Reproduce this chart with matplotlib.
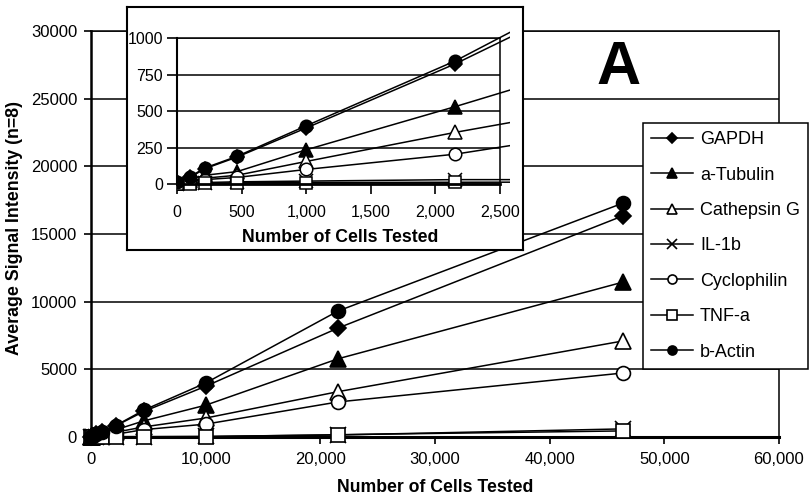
import matplotlib
matplotlib.use("Agg")
import matplotlib.pyplot as plt
from matplotlib.ticker import FuncFormatter, MultipleLocator
from matplotlib.patches import Rectangle

plt.rcParams['font.family'] = ['Liberation Sans', 'DejaVu Sans']

# number of cells and average signal (n=8)
cells = [0, 100, 215, 464, 1000, 2154, 4642, 10000, 21544, 46416]
gapdh = [12, 45, 105, 185, 385, 826, 1900, 3750, 8050, 16350]
tubulin = [8, 30, 60, 85, 235, 532, 1200, 2350, 5780, 11450]
cathepsin = [5, 20, 40, 60, 155, 355, 750, 1400, 3350, 7100]
il1b = [2, 5, 10, 15, 20, 30, 30, 40, 150, 600]
cyclophilin = [5, 15, 30, 45, 100, 205, 550, 950, 2590, 4730]
tnfa = [1, 3, 5, 8, 10, 12, 15, 30, 170, 450]
actin = [15, 50, 110, 190, 400, 846, 2000, 3990, 9310, 17290]

series = [
    ("GAPDH", gapdh, dict(marker="D", ms=8, mfc="black")),
    ("a-Tubulin", tubulin, dict(marker="^", ms=11, mfc="black")),
    ("Cathepsin G", cathepsin, dict(marker="^", ms=11, mfc="white")),
    ("IL-1b", il1b, dict(marker="x", ms=11, mfc="black")),
    ("Cyclophilin", cyclophilin, dict(marker="o", ms=10, mfc="white")),
    ("TNF-a", tnfa, dict(marker="s", ms=10, mfc="white")),
    ("b-Actin", actin, dict(marker="o", ms=10, mfc="black")),
]

comma = FuncFormatter(lambda v, p: f"{v:,.0f}")

fig = plt.figure(figsize=(8.09, 4.99), dpi=100)

# main chart
ax = fig.add_axes([91 / 809, 1 - 437 / 499, 688 / 809, 406 / 499])
for name, vals, st in series:
    ax.plot(cells, vals, color="black", lw=1.1, mec="black", mew=1.2,
            label=name, clip_on=False, zorder=3, **st)
ax.set_xlim(0, 60000)
ax.set_ylim(0, 30000)
ax.xaxis.set_major_locator(MultipleLocator(10000))
ax.yaxis.set_major_locator(MultipleLocator(5000))
ax.xaxis.set_major_formatter(comma)
ax.grid(axis="y", color="black", lw=1.1)
ax.set_axisbelow(True)
for s in ["top", "right"]:
    ax.spines[s].set_linewidth(1.1)
ax.spines["left"].set_linewidth(1.8)
ax.spines["bottom"].set_linewidth(2.2)
ax.tick_params(axis="both", direction="out", length=5, width=1.2, labelsize=12, color="black")
ax.tick_params(axis="x", pad=6)
ax.tick_params(axis="y", pad=5)
ax.set_xlabel("Number of Cells Tested", fontsize=12.7, fontweight="bold")
ax.set_ylabel("Average Signal Intensity (n=8)", fontsize=12.8, fontweight="bold")
ax.xaxis.set_label_coords(0.5, -0.103)
ax.yaxis.set_label_coords(-0.099, 0.515)

leg = ax.legend(loc="upper left", bbox_to_anchor=(643 / 809, 1 - 123 / 499),
                bbox_transform=fig.transFigure, fontsize=13, frameon=True,
                fancybox=False, edgecolor="black", framealpha=1, markerscale=0.65,
                handlelength=2.3, handletextpad=0.4, labelspacing=1.02,
                borderpad=0.45, borderaxespad=0)
leg.get_frame().set_linewidth(1.1)
leg.set_zorder(10)

fig.text(619 / 809, 1 - 68 / 499, "A", fontsize=44, fontweight="bold",
         ha="center", va="center")

# inset frame
frame = fig.add_axes([127 / 809, 1 - 250 / 499, 396 / 809, 243 / 499])
frame.set_xticks([])
frame.set_yticks([])
frame.set_facecolor("white")
for s in frame.spines.values():
    s.set_linewidth(1.5)
frame.set_zorder(5)

# inset: low cell numbers
ins = fig.add_axes([177 / 809, 1 - 184 / 499, 323 / 809, 145.5 / 499])
ins.set_zorder(6)
ins.patch.set_alpha(0)
clip = Rectangle((0, -0.08), 1.031, 1.14, transform=ins.transAxes)
for name, vals, st in series:
    st2 = dict(st)
    st2["ms"] = st["ms"] - 1
    ln, = ins.plot(cells, vals, color="black", lw=1.1, mec="black", mew=1.1,
                   clip_on=True, **st2)
    ln.set_clip_path(clip)
ins.set_xlim(0, 2500)
ins.set_ylim(0, 1000)
ins.xaxis.set_major_locator(MultipleLocator(500))
ins.yaxis.set_major_locator(MultipleLocator(250))
ins.xaxis.set_major_formatter(comma)
ins.grid(axis="y", color="black", lw=1.1)
ins.set_axisbelow(True)
ins.spines["top"].set_linewidth(1.1)
ins.spines["right"].set_linewidth(1.1)
ins.spines["left"].set_linewidth(1.5)
ins.spines["bottom"].set_linewidth(2.0)
ins.tick_params(axis="both", direction="out", length=7, width=1.2, labelsize=11.5, color="black")
ins.tick_params(axis="x", pad=8)
ins.tick_params(axis="y", pad=3)
ins.set_xlabel("Number of Cells Tested", fontsize=12.7, fontweight="bold")
ins.xaxis.set_label_coords(0.505, -0.31)

fig.savefig("out.png", dpi=100)
